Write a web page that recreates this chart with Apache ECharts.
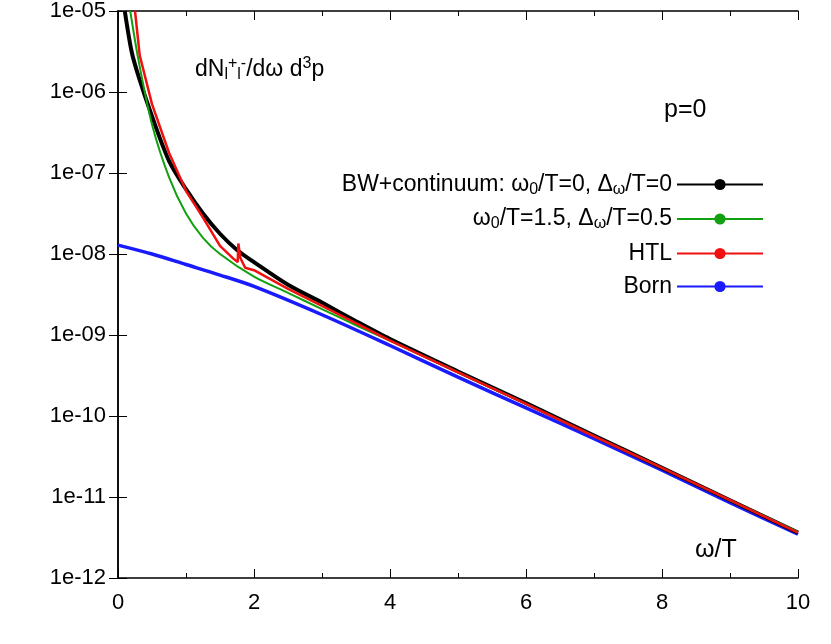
<!DOCTYPE html>
<html lang="en">
<head>
<meta charset="UTF-8">
<title>dilepton rate</title>
<script src="https://cdn.jsdelivr.net/npm/echarts@6/dist/echarts.min.js"></script>
</head>
<body style="margin:0">
<div id="main" style="width:831px;height:644px;"></div>
<script type="text/javascript">
    // values are log10 of the rate
    var bornX = [0, 0.5, 1, 1.5, 2, 3, 4, 5, 6, 7, 8, 9, 10];
    var bornY = [-7.89, -8.0, -8.13, -8.26, -8.40, -8.75, -9.13, -9.52, -9.90, -10.28, -10.67, -11.07, -11.46];
    var bwX = [0.1, 0.2, 0.3, 0.5, 0.75, 1, 1.25, 1.5, 1.75, 2, 2.5, 3, 3.5, 4, 5, 6, 7, 8, 9, 10];
    var bwY = [-5.0, -5.5, -5.8, -6.3, -6.85, -7.2, -7.5, -7.75, -7.95, -8.1, -8.38, -8.6, -8.83, -9.05, -9.45, -9.84, -10.24, -10.64, -11.04, -11.44];
    var bw2X = [0.18, 0.3, 0.5, 0.75, 1, 1.25, 1.5, 2, 2.5, 3, 3.5, 4, 5, 6, 7, 8, 9, 10];
    var bw2Y = [-5.0, -5.6, -6.4, -7.05, -7.5, -7.8, -8.0, -8.28, -8.48, -8.68, -8.88, -9.07, -9.46, -9.85, -10.25, -10.64, -11.04, -11.43];
    var htlX = [0.25, 0.32, 0.5, 0.75, 1, 1.25, 1.5, 1.7, 1.76, 1.77, 1.8, 1.87, 2, 2.5, 3, 4, 5, 6, 7, 8, 9, 10];
    var htlY = [-5.0, -5.55, -6.15, -6.75, -7.22, -7.55, -7.9, -8.06, -8.1, -7.87, -8.05, -8.17, -8.2, -8.43, -8.64, -9.07, -9.46, -9.85, -10.25, -10.64, -11.04, -11.44];
    var yTicks = [-12, -11, -10, -9, -8, -7, -6, -5];

    function pairs(xs, ys) {
        return xs.map(function (x, i) { return [x, ys[i]]; });
    }
    var font = 'Liberation Sans';
    var rich = {
        n: {fontSize: 23, fontFamily: font, color: '#000'},
        s: {fontSize: 16, fontFamily: font, color: '#000', padding: [10, 0, 0, 0]},
        u: {fontSize: 16, fontFamily: font, color: '#000', padding: [0, 0, 12, 0]}
    };
    var legendText = {
        'bw0': '{n|BW+continuum: ω}{s|0}{n|/T=0, Δ}{s|ω}{n|/T=0}',
        'bw1': '{n|ω}{s|0}{n|/T=1.5, Δ}{s|ω}{n|/T=0.5}',
        'htl': '{n|HTL}',
        'born': '{n|Born}'
    };
    var noLabelAxis = {
        axisLine: {show: true, lineStyle: {color: '#000', width: 1.5}},
        axisTick: {inside: true, length: 9, lineStyle: {color: '#000'}},
        axisLabel: {show: false},
        splitLine: {show: false}
    };

    var myChart = echarts.init(document.getElementById('main'));
    var option = {
        animation: false,
        grid: {left: 118, right: 33, top: 5, bottom: 66},
        legend: {
            orient: 'vertical', right: 62, top: 168, align: 'right',
            itemWidth: 86, itemHeight: 14, itemGap: 10,
            data: ['bw0', 'bw1', 'htl', 'born'],
            formatter: function (name) { return legendText[name]; },
            textStyle: {fontSize: 23, fontFamily: font, rich: rich}
        },
        xAxis: [
            Object.assign({}, noLabelAxis, {
                type: 'value', min: 0, max: 10, interval: 2, position: 'bottom',
                axisLabel: {show: true, fontSize: 22, fontFamily: font, color: '#000', margin: 14},
                minorTick: {show: true, splitNumber: 2, length: 5, lineStyle: {color: '#000'}}
            }),
            Object.assign({}, noLabelAxis, {
                type: 'value', min: 0, max: 10, interval: 2, position: 'top',
                minorTick: {show: true, splitNumber: 2, length: 5, lineStyle: {color: '#000'}}
            })
        ],
        yAxis: [
            Object.assign({}, noLabelAxis, {
                type: 'value', min: yTicks[0], max: yTicks[yTicks.length - 1], interval: 1, position: 'left',
                axisLabel: {
                    show: true, fontSize: 22, fontFamily: font, color: '#000', margin: 12,
                    formatter: function (v) { return '1e-' + (v > -10 ? '0' : '') + (-v); }
                }
            }),
            Object.assign({}, noLabelAxis, {
                type: 'value', min: yTicks[0], max: yTicks[yTicks.length - 1], interval: 1, position: 'right'
            })
        ],
        graphic: [
            {type: 'text', left: 195, top: 56, style: {
                text: '{n|dN}{s|l}{u|+}{s|l}{u|-}{n|/dω d}{u|3}{n|p}', fontSize: 23, fontFamily: font, rich: rich}},
            {type: 'text', left: 664, top: 98, style: {text: 'p=0', font: '25px ' + font, fill: '#000'}},
            {type: 'text', left: 695, top: 538, style: {text: 'ω/T', font: '25px ' + font, fill: '#000'}}
        ],
        series: [
            {name: 'born', type: 'line', data: pairs(bornX, bornY), symbol: 'none', smooth: 0.3,
                z: 2, lineStyle: {color: '#1a1aff', width: 3.5}, itemStyle: {color: '#1a1aff'}},
            {name: 'bw0', type: 'line', data: pairs(bwX, bwY), symbol: 'none', smooth: 0.3,
                z: 3, lineStyle: {color: '#000', width: 4}, itemStyle: {color: '#000'}},
            {name: 'bw1', type: 'line', data: pairs(bw2X, bw2Y), symbol: 'none', smooth: 0.3,
                z: 4, lineStyle: {color: '#10a010', width: 2}, itemStyle: {color: '#10a010'}},
            {name: 'htl', type: 'line', data: pairs(htlX, htlY), symbol: 'none',
                z: 5, lineStyle: {color: '#f01010', width: 2.5}, itemStyle: {color: '#f01010'}}
        ]
    };
    myChart.setOption(option);
</script>
</body>
</html>
